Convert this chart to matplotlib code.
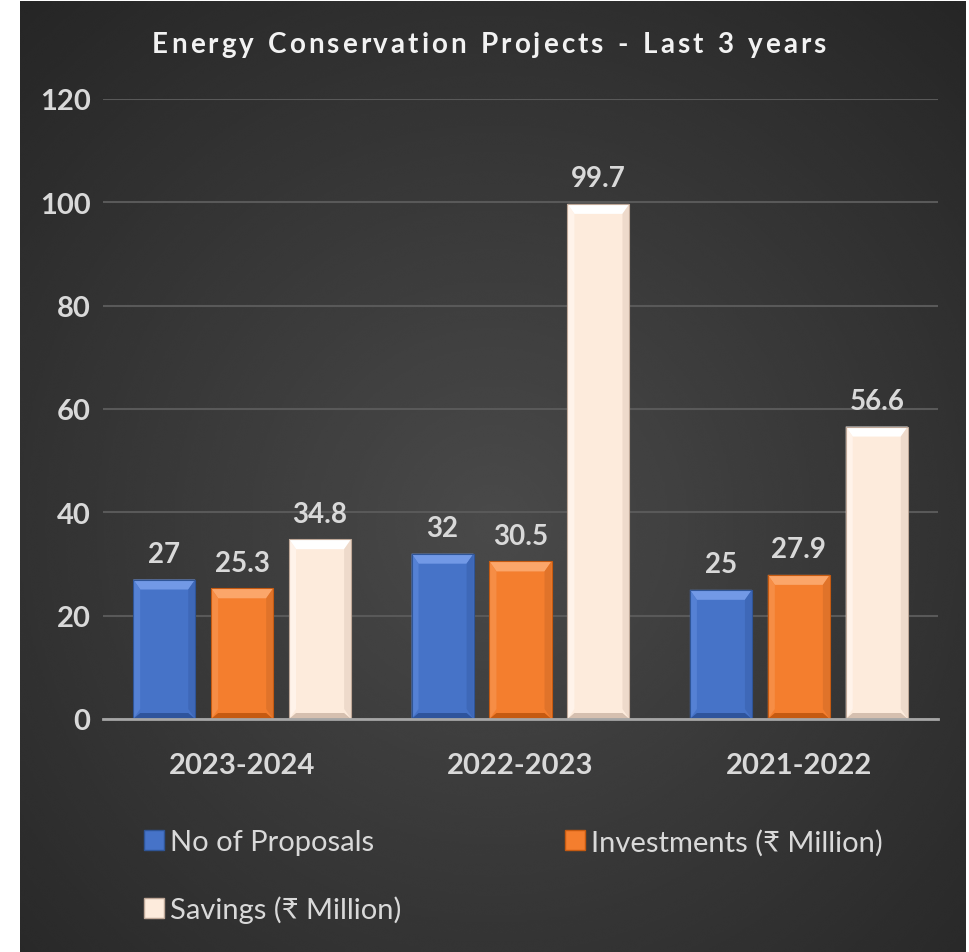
import matplotlib
matplotlib.use('Agg')
import numpy as np
import matplotlib.pyplot as plt
from matplotlib.patches import Polygon, Patch

years = ['2023-2024', '2022-2023', '2021-2022']
proposals = [27, 32, 25]
investments = [25.3, 30.5, 27.9]
savings = [34.8, 99.7, 56.6]
series_names = ['No of Proposals', 'Investments (₹ Million)', 'Savings (₹ Million)']
yticks = [0, 20, 40, 60, 80, 100, 120]
title = 'Energy Conservation Projects - Last 3 years'

# main, top, left, right, bottom, edge
palettes = [
    ('#4673C8', '#7299E6', '#5581D4', '#3E68B8', '#2E549C', '#2F5597'),
    ('#F47E2E', '#FBA66A', '#F68D45', '#E0732A', '#C55A11', '#C55A11'),
    ('#FDEBDC', '#FFFFFF', '#FFF3EA', '#EEDACB', '#D5BFAF', '#BFA898'),
]
text_col = '#d9d9d9'

plt.rcParams['font.family'] = ['Lato', 'DejaVu Sans']

fig = plt.figure(figsize=(9.7, 9.53), dpi=100, facecolor='white')

# dark radial backdrop
bg = fig.add_axes([20 / 970, 0, 946 / 970, 951 / 953])
yy, xx = np.mgrid[0:1:400j, 0:1:400j]
r = np.hypot(xx - 0.5, yy - 0.55)
shade = np.clip(0.29 - 0.19 * r, 0, 1)
bg.imshow(shade, cmap='gray', vmin=0, vmax=1, aspect='auto',
          extent=(0, 1, 0, 1), interpolation='bicubic')
bg.set_axis_off()

ax = fig.add_axes([103 / 970, 1 - 720 / 953, 835 / 970, 620 / 953])
ax.patch.set_alpha(0)
ax.set_xlim(-0.5, 2.5)
ax.set_ylim(0, 120)

x = np.arange(len(years))
width = 0.223
offsets = [-0.28, 0, 0.28]

# bevel sizes in data units (~7 px sides, ~10 px top/bottom)
dx = 7 / (ax.bbox.width / 3)
dy = 10 / (ax.bbox.height / 120)


def bevel(bar, pal):
    x0, w, h = bar.get_x(), bar.get_width(), bar.get_height()
    x1 = x0 + w
    faces = [
        ([(x0, h), (x1, h), (x1 - dx, h - dy), (x0 + dx, h - dy)], pal[1]),
        ([(x0, 0), (x0, h), (x0 + dx, h - dy), (x0 + dx, dy)], pal[2]),
        ([(x1, 0), (x1, h), (x1 - dx, h - dy), (x1 - dx, dy)], pal[3]),
        ([(x0, 0), (x1, 0), (x1 - dx, dy * 0.6), (x0 + dx, dy * 0.6)], pal[4]),
    ]
    for pts, c in faces:
        ax.add_patch(Polygon(pts, closed=True, facecolor=c, edgecolor='none', zorder=3))
    ax.add_patch(plt.Rectangle((x0, 0), w, h, facecolor='none',
                               edgecolor=pal[5], lw=0.8, zorder=4))


handles = []
for vals, off, pal, name in zip([proposals, investments, savings], offsets, palettes, series_names):
    bars = ax.bar(x + off, vals, width, color=pal[0], zorder=2)
    for b in bars:
        bevel(b, pal)
    ax.bar_label(bars, padding=9, fontsize=20, fontweight='bold', color=text_col)
    handles.append(Patch(facecolor=pal[0], edgecolor=pal[5], label=name))

ax.set_yticks(yticks)
ax.set_xticks(x)
ax.set_xticklabels(years)
ax.yaxis.grid(True, color='#595959', lw=1.5, zorder=0)
ax.set_axisbelow(True)
for s in ['top', 'right', 'left']:
    ax.spines[s].set_visible(False)
ax.spines['bottom'].set_color('#a6a6a6')
ax.spines['bottom'].set_linewidth(2)
ax.spines['bottom'].set_zorder(5)
ax.tick_params(axis='y', length=0, pad=9, labelsize=21, labelcolor=text_col)
ax.tick_params(axis='x', length=0, pad=24, labelsize=21, labelcolor=text_col)
for lbl in ax.get_xticklabels() + ax.get_yticklabels():
    lbl.set_fontweight('bold')

# title drawn letter by letter to get wide tracking
renderer = fig.canvas.get_renderer()
tkw = dict(fontsize=20, fontweight='bold', color='#f2f2f2', va='center')
track = 3.0
widths = []
for ch in title:
    t = fig.text(0, 0, ch if ch != ' ' else 'n', **tkw)
    w = t.get_window_extent(renderer).width
    if ch == ' ':
        w *= 0.55
    widths.append(w)
    t.remove()
total = sum(widths) + track * (len(title) - 1)
xpos = 489 - total / 2
ytitle = 953 - 45
for ch, w in zip(title, widths):
    if ch != ' ':
        fig.text(xpos / 970, ytitle / 953, ch, ha='left', **tkw)
    xpos += w + track

order = [0, 2, 1]
fig.legend([handles[i] for i in order], [series_names[i] for i in order],
           ncol=2, loc='upper left', bbox_to_anchor=(129 / 970, 1 - 815 / 953),
           frameon=False, fontsize=21, labelcolor=text_col,
           handlelength=0.7, handleheight=0.7, handletextpad=0.2,
           columnspacing=5.6, labelspacing=1.38, borderpad=0)

fig.savefig('out.png', dpi=100, facecolor=fig.get_facecolor())
